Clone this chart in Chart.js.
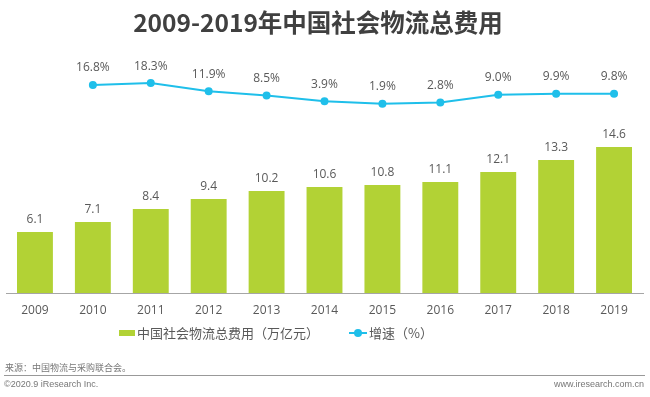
<!DOCTYPE html>
<html>
<head>
<meta charset="utf-8">
<script src="https://cdn.jsdelivr.net/npm/chart.js@4"></script>
<style>
	html, body { margin:0; padding:0; background:#fff; }
	body { width:650px; height:397px; position:relative; overflow:hidden; font-family:"Open Sans","Noto Sans CJK SC",sans-serif; color:#595959; }
	#title { position:absolute; top:4px; left:0; width:636px; text-align:center; font:bold 24.5px "Noto Sans CJK SC","Open Sans",sans-serif; color:#404040; }
	#wrap { position:absolute; left:0; top:0; width:650px; height:397px; }
	.leg { position:absolute; top:323px; font:13px "Noto Sans CJK SC",sans-serif; color:#595959; white-space:nowrap; }
	.sw { display:inline-block; width:16px; height:6px; background:#b2d235; vertical-align:middle; margin-right:2px; position:relative; top:-1px; }
	.ln { display:inline-block; width:18px; height:2px; background:#1fbfea; vertical-align:middle; position:relative; top:-1px; margin-right:2px; }
	.ln i { position:absolute; left:5px; top:-3px; width:8px; height:8px; border-radius:50%; background:#1fbfea; }
	#src { position:absolute; left:5px; top:361px; font:9px "Noto Sans CJK SC",sans-serif; color:#777; }
	#rule { position:absolute; left:4px; right:5px; top:375px; height:1px; background:#999; }
	#copy { position:absolute; left:4px; top:379px; font:9px "Liberation Sans",sans-serif; color:#777; }
	#web { position:absolute; right:6px; top:379px; font:9px "Liberation Sans",sans-serif; color:#777; }
</style>
</head>
<body>
<div id="wrap"><canvas id="chart" width="650" height="397"></canvas></div>
<div id="title">2009-2019年中国社会物流总费用</div>
<div class="leg" style="left:119px"><span class="sw"></span>中国社会物流总费用（万亿元）</div>
<div class="leg" style="left:349px"><span class="ln"><i></i></span>增速（%）</div>
<div id="src">来源：中国物流与采购联合会。</div>
<div id="rule"></div>
<div id="copy">©2020.9 iResearch Inc.</div>
<div id="web">www.iresearch.com.cn</div>
<script>
const years = ['2009','2010','2011','2012','2013','2014','2015','2016','2017','2018','2019'];
const costs = [6.1, 7.1, 8.4, 9.4, 10.2, 10.6, 10.8, 11.1, 12.1, 13.3, 14.6];
const growth = [null, 16.8, 18.3, 11.9, 8.5, 3.9, 1.9, 2.8, 9.0, 9.9, 9.8];

const valueLabels = {
	id: 'valueLabels',
	afterDatasetsDraw(chart){
		let ctx = chart.ctx;
		ctx.save();
		ctx.font = '12px "Open Sans", sans-serif';
		ctx.fillStyle = '#595959';
		ctx.textAlign = 'center';
		ctx.textBaseline = 'middle';
		chart.getDatasetMeta(0).data.forEach(function(bar, i){
			ctx.fillText(costs[i].toFixed(1), bar.x, bar.y - 12);
		});
		chart.getDatasetMeta(1).data.forEach(function(pt, i){
			if(growth[i] === null) return;
			ctx.fillText(growth[i].toFixed(1) + '%', pt.x, pt.y - 17);
		});
		ctx.restore();
	}
};

let ctx = document.getElementById('chart').getContext('2d');
new Chart(ctx, {
	data: {
		labels: years,
		datasets: [{
			type: 'bar',
			label: '中国社会物流总费用（万亿元）',
			data: costs,
			yAxisID: 'y',
			backgroundColor: '#b2d235',
			categoryPercentage: 1,
			barPercentage: 0.62,
			order: 1
		},{
			type: 'line',
			label: '增速（%）',
			data: growth,
			yAxisID: 'y1',
			borderColor: '#1fbfea',
			backgroundColor: '#1fbfea',
			borderWidth: 2,
			pointRadius: 4,
			pointBackgroundColor: '#1fbfea',
			pointBorderWidth: 0,
			order: 0
		}]
	},
	options: {
		responsive: false,
		animation: false,
		layout: { padding: { top: 60, left: 6, right: 7, bottom: 74 } },
		plugins: { legend: { display: false }, tooltip: { enabled: false } },
		scales: {
			x: {
				grid: { display: false },
				border: { display: true, color: '#a6a6a6', width: 1 },
				ticks: { color: '#595959', font: { size: 12, family: '"Open Sans", sans-serif' }, padding: 2 },
				afterFit: function(scale){ scale.height = 30; }
			},
			y: { display: false, min: 0, max: 23.3 },
			y1: { display: false, min: -148.9, max: 36.7 }
		}
	},
	plugins: [valueLabels]
});
</script>
</body>
</html>
